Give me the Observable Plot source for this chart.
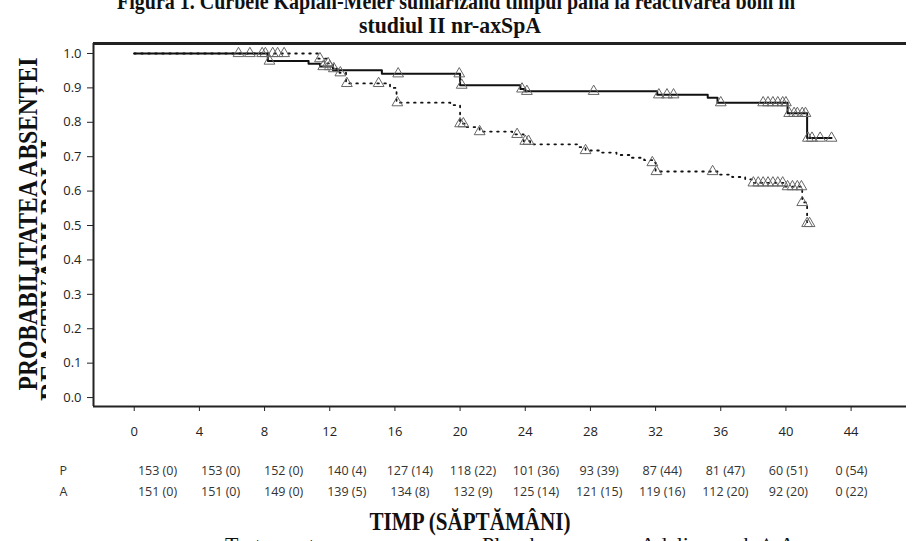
<!DOCTYPE html>
<html>
<head>
<meta charset="utf-8">
<script src="https://cdn.jsdelivr.net/npm/d3@7"></script>
<script src="https://cdn.jsdelivr.net/npm/@observablehq/plot@0.6"></script>
<style>
  body { margin: 0; background: #fff; }
  #chart { position: relative; width: 912px; height: 541px; overflow: hidden; background: #fff; }
  #chart > svg { position: absolute; left: 0; }
</style>
</head>
<body>
<div id="chart"></div>
<script>
// Week ticks shared by the axis and the number-at-risk table
const weeks = [0, 4, 8, 12, 16, 20, 24, 28, 32, 36, 40, 44];
const yTicks = [0, 0.1, 0.2, 0.3, 0.4, 0.5, 0.6, 0.7, 0.8, 0.9, 1.0];

// Number at risk (cumulative events) per arm
const atRiskP = ["153 (0)", "153 (0)", "152 (0)", "140 (4)", "127 (14)", "118 (22)", "101 (36)", "93 (39)", "87 (44)", "81 (47)", "60 (51)", "0 (54)"];
const atRiskA = ["151 (0)", "151 (0)", "149 (0)", "139 (5)", "134 (8)", "132 (9)", "125 (14)", "121 (15)", "119 (16)", "112 (20)", "92 (20)", "0 (22)"];

// Kaplan-Meier steps, adalimumab (solid)
const adaWeeks = [0, 8.2, 10.7, 11.4, 12.2, 15.2, 20.0, 23.7, 24.0, 32.1, 35.2, 35.8, 40.1, 41.3, 42.8];
const adaSurv  = [1.000, 0.978, 0.970, 0.962, 0.951, 0.941, 0.908, 0.897, 0.890, 0.880, 0.871, 0.857, 0.826, 0.754, 0.754];

// Kaplan-Meier steps, placebo (dotted)
const pboWeeks = [0, 11.3, 11.8, 12.2, 12.6, 13.0, 15.7, 16.1, 19.4, 20.0, 20.3, 21.2, 23.2, 23.9, 24.3, 27.3, 27.7, 28.7, 29.6, 30.5, 31.3, 31.8, 32.0, 35.8, 36.7, 37.5, 37.9, 39.9, 41.0, 41.3, 41.5];
const pboSurv  = [1.000, 0.985, 0.971, 0.956, 0.944, 0.913, 0.900, 0.857, 0.850, 0.796, 0.786, 0.773, 0.765, 0.745, 0.736, 0.728, 0.718, 0.712, 0.705, 0.697, 0.690, 0.683, 0.657, 0.648, 0.641, 0.634, 0.624, 0.613, 0.567, 0.506, 0.506];

// Censoring times (weeks)
const adaCensor = [6.4, 7.1, 7.85, 8.05, 8.3, 11.6, 12.0, 16.2, 19.95, 20.1, 23.8, 24.1, 28.2, 32.2, 32.7, 33.1, 36.0, 38.6, 38.9, 39.2, 39.5, 39.8, 40.0, 40.2, 40.5, 40.7, 41.0, 41.2, 41.35, 41.6, 42.1, 42.8];
const pboCensor = [8.5, 8.8, 9.2, 11.4, 11.9, 12.25, 12.65, 13.05, 15.0, 16.15, 20.0, 20.2, 21.2, 23.5, 24.0, 24.2, 27.7, 31.8, 32.05, 35.5, 38.0, 38.3, 38.6, 38.9, 39.2, 39.5, 39.8, 40.1, 40.4, 40.7, 40.95, 41.0, 41.3, 41.45];

const toSteps = (ws, ss) => ws.map((w, i) => ({week: w, surv: ss[i]}));
const survAt = (ws, ss) => w => ss[Math.max(0, d3.bisectRight(ws, w) - 1)];
const ada = toSteps(adaWeeks, adaSurv);
const pbo = toSteps(pboWeeks, pboSurv);
const adaAt = survAt(adaWeeks, adaSurv);
const pboAt = survAt(pboWeeks, pboSurv);
const adaMarks = adaCensor.map(w => ({week: w, surv: adaAt(w)}));
const pboMarks = pboCensor.map(w => ({week: w, surv: pboAt(w)}));

const xDomain = [-2.5, 47.4];
const yDomain = [-0.026, 1.029];
const sans = "'Open Sans', 'Noto Sans', sans-serif";
const serif = "'Liberation Serif', 'Times New Roman', serif";

const chart = document.getElementById("chart");

// Survival curves
const main = Plot.plot({
  width: 912,
  height: 450,
  marginTop: 43,
  marginBottom: 44,
  marginLeft: 93,
  marginRight: 6,
  style: {fontFamily: sans, fontSize: "13px", color: "#222", background: "transparent"},
  x: {domain: xDomain, ticks: weeks, tickSize: 5, tickPadding: 15, tickFormat: d3.format("d"), label: null},
  y: {domain: yDomain, ticks: yTicks, tickSize: 6, tickPadding: 6, tickFormat: d3.format(".1f"), label: null},
  marks: [
    Plot.ruleX([xDomain[0]], {stroke: "#222", strokeWidth: 2}),
    Plot.ruleY([yDomain[0]], {stroke: "#222", strokeWidth: 2}),
    Plot.ruleY([yDomain[1]], {stroke: "#222", strokeWidth: 3}),
    Plot.line(pbo, {x: "week", y: "surv", curve: "step-after", stroke: "#111", strokeWidth: 1.8, strokeDasharray: "1.6 5.4"}),
    Plot.line(ada, {x: "week", y: "surv", curve: "step-after", stroke: "#111", strokeWidth: 2}),
    Plot.dot(pboMarks, {x: "week", y: "surv", symbol: "triangle", r: 4, stroke: "#666", strokeWidth: 1, fill: "none"}),
    Plot.dot(adaMarks, {x: "week", y: "surv", symbol: "triangle", r: 4, stroke: "#666", strokeWidth: 1, fill: "none"})
  ]
});
main.style.top = "0px";
chart.appendChild(main);

// Number-at-risk table
const riskRows = [{arm: "P", values: atRiskP}, {arm: "A", values: atRiskA}];
const riskData = riskRows.flatMap(r => weeks.map((w, i) => ({arm: r.arm, week: w, text: r.values[i]})));
const risk = Plot.plot({
  width: 912,
  height: 60,
  marginTop: 0,
  marginBottom: 0,
  marginLeft: 59,
  marginRight: 0,
  style: {fontFamily: sans, fontSize: "12.5px", color: "#333", background: "transparent"},
  x: {domain: [0, 44], range: [157, 851], axis: null},
  y: {type: "point", domain: ["P", "A"], range: [15, 36], padding: 0, axis: null},
  marks: [
    Plot.text(riskData, {x: "week", y: "arm", text: "text", fill: "#333"}),
    Plot.text(riskRows, {y: "arm", text: "arm", frameAnchor: "left", textAnchor: "start", fill: "#333"})
  ]
});
risk.style.top = "455px";
chart.appendChild(risk);

// Titles and axis labels
const svg = d3.create("svg")
  .attr("width", 912).attr("height", 541)
  .style("top", "0px")
  .style("pointer-events", "none");

svg.append("defs").append("clipPath").attr("id", "ylab-clip")
  .append("rect").attr("x", 0).attr("y", 0).attr("width", 46).attr("height", 541);

const bold = (sel) => sel.attr("font-family", serif).attr("font-weight", "bold").attr("fill", "#111");

bold(svg.append("text"))
  .attr("x", 456).attr("y", 9).attr("text-anchor", "middle")
  .attr("font-size", 24).attr("textLength", 678).attr("lengthAdjust", "spacingAndGlyphs")
  .text("Figura 1. Curbele Kaplan-Meier sumarizând timpul până la reactivarea bolii în");

bold(svg.append("text"))
  .attr("x", 450).attr("y", 33).attr("text-anchor", "middle")
  .attr("font-size", 24).attr("textLength", 182).attr("lengthAdjust", "spacingAndGlyphs")
  .text("studiul II nr-axSpA");

bold(svg.append("text"))
  .attr("transform", "translate(37,224) rotate(-90)").attr("text-anchor", "middle")
  .attr("font-size", 28).attr("textLength", 333).attr("lengthAdjust", "spacingAndGlyphs")
  .text("PROBABILITATEA ABSENȚEI");

bold(svg.append("g").attr("clip-path", "url(#ylab-clip)").append("text"))
  .attr("transform", "translate(59,270) rotate(-90)").attr("text-anchor", "middle")
  .attr("font-size", 28).attr("textLength", 262).attr("lengthAdjust", "spacingAndGlyphs")
  .text("REACTIVĂRII BOLII");

bold(svg.append("text"))
  .attr("x", 470).attr("y", 530).attr("text-anchor", "middle")
  .attr("font-size", 25).attr("textLength", 201).attr("lengthAdjust", "spacingAndGlyphs")
  .text("TIMP (SĂPTĂMÂNI)");

// Legend row
const legend = [
  {x: 225, text: "Tratament"},
  {x: 482, text: "Placebo"},
  {x: 640, text: "Adalimumab"},
  {x: 758, text: "△ A"}
];
svg.selectAll("text.legend").data(legend).join("text")
  .attr("class", "legend")
  .attr("x", d => d.x).attr("y", 552)
  .attr("font-family", serif).attr("font-size", 22).attr("fill", "#111")
  .text(d => d.text);

chart.appendChild(svg.node());
</script>
</body>
</html>
